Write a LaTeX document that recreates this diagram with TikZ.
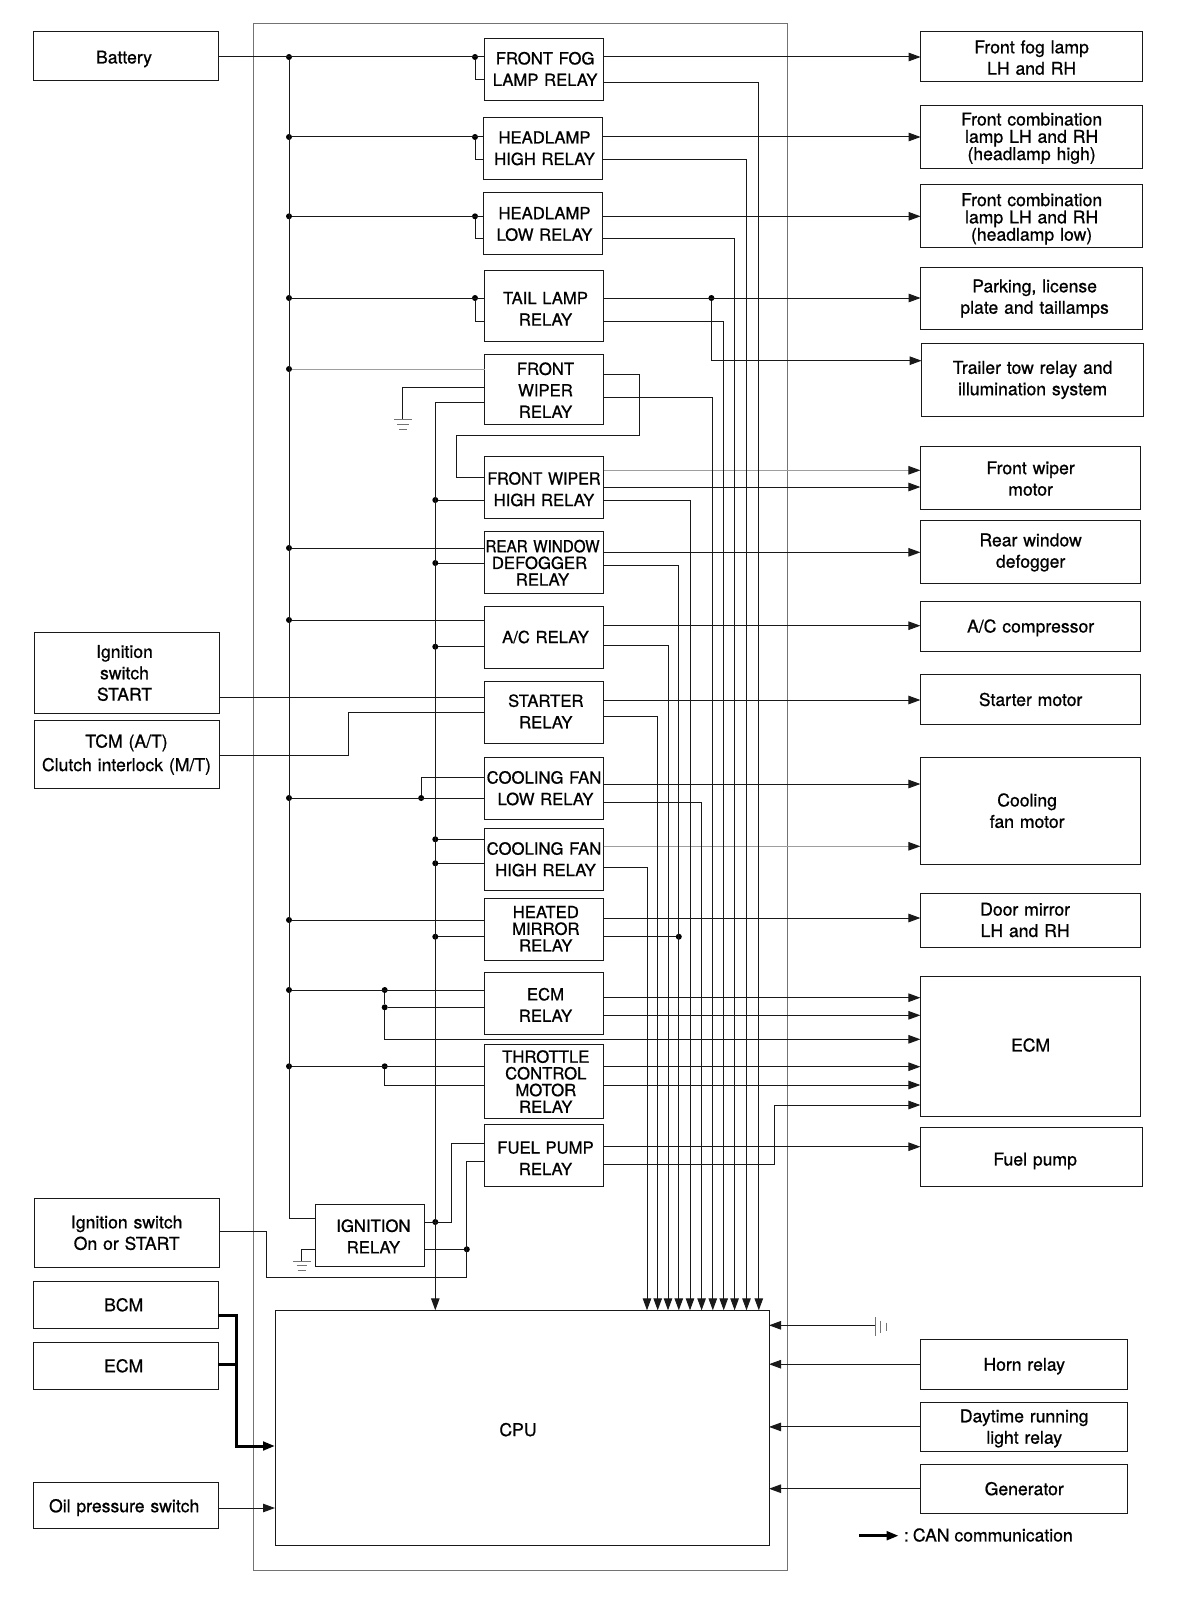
\documentclass[tikz,border=0pt]{standalone}
\usepackage{fontspec}
\setmainfont[FakeBold=0.8]{TeX Gyre Heros}
\newfontfamily\narrowfont[FakeBold=0.8,FakeStretch=0.91]{TeX Gyre Heros}
\newfontfamily\slimfont[FakeBold=0.8,FakeStretch=0.96]{TeX Gyre Heros}
\usetikzlibrary{arrows.meta}
\definecolor{linecol}{gray}{0.1}
\definecolor{framecol}{gray}{0.45}
\definecolor{palecol}{gray}{0.62}

\begin{document}
\begin{tikzpicture}[x=1pt, y=-1pt, >={Triangle[length=12pt, width=8.5pt]},
    every node/.style={inner sep=0pt, outer sep=0pt},
    box/.style={draw=linecol, line width=1pt, align=center},
    drop/.style={execute at begin node={\rule{0pt}{#1}}},
    lift/.style={execute at end node={\rule[-#1]{0pt}{0pt}}},
    right by/.style={execute at begin node={\advance\leftskip by #1}},
    relay/.style={box, minimum width=119pt, minimum height=62pt, text width=119pt, right by=3pt, font=\fontsize{16.7}{21.5}\selectfont},
    tightrelay/.style={relay, font=\fontsize{16.7}{16.7}\selectfont},
    device/.style={box, minimum width=222pt, text width=200pt, font=\fontsize{17.6}{21.4}\selectfont},
    tightdevice/.style={device, font=\fontsize{17.6}{17.3}\selectfont},
    source/.style={box, minimum width=185pt, text width=175pt, font=\fontsize{17.6}{21.4}\selectfont},
    junction/.style={circle, fill=black, minimum size=6pt},
    wire/.style={draw=linecol, line width=1pt},
    palewire/.style={draw=palecol, line width=1pt, >={Triangle[length=12pt, width=8.5pt, color=linecol]}},
    canwire/.style={draw=black, line width=3pt},
    thinwire/.style={draw=framecol, line width=0.9pt}]
    \useasboundingbox (0,0) rectangle (1200,1600);

    % module outline
    \node[draw=framecol, line width=1pt, minimum width=534pt, minimum height=1546.5pt] (module) at (520.5,796.75) {};

    % relays
    \node[relay, lift=2pt] (fog) at (543.6,69.9) {FRONT FOG\\LAMP RELAY};
    \node[relay] (high) at (543,148.3) {HEADLAMP\\HIGH RELAY};
    \node[relay, drop=14.2pt] (low) at (543,223) {HEADLAMP\\LOW RELAY};
    \node[relay, minimum height=71pt, drop=18.2pt] (tail) at (544,305.8) {TAIL LAMP\\RELAY};
    \node[relay, minimum height=70pt, drop=14.2pt] (wiper) at (544,389.3) {FRONT\\WIPER\\RELAY};
    \node[relay, right by=-3pt, drop=16.2pt] (wiperhigh) at (544,487.3) {{\slimfont FRONT WIPER}\\HIGH RELAY};
    \node[tightrelay, right by=-6pt] (rear) at (544,562.7) {{\narrowfont REAR WINDOW}\\\hspace*{-6pt}DEFOGGER\\RELAY};
    \node[relay] (ac) at (544,637) {A/C RELAY};
    \node[relay, lift=2pt] (starter) at (544.3,712.3) {STARTER\\RELAY};
    \node[relay, right by=-3pt] (fanlow) at (544,788.2) {COOLING FAN\\\hspace*{3pt}LOW RELAY};
    \node[relay, right by=-3pt] (fanhigh) at (544,859.3) {COOLING FAN\\\hspace*{3pt}HIGH RELAY};
    \node[tightrelay, lift=2pt] (mirror) at (544.3,929.7) {HEATED\\MIRROR\\RELAY};
    \node[relay, drop=15.2pt] (ecmrelay) at (544,1003.5) {ECM\\RELAY};
    \node[tightrelay, minimum height=74.4pt] (throttle) at (544.3,1081.5) {THROTTLE\\CONTROL\\MOTOR\\RELAY};
    \node[relay, drop=17.2pt] (fuel) at (544,1155.7) {FUEL PUMP\\RELAY};
    \node[relay, minimum width=109.7pt, text width=109.7pt, right by=4pt, drop=14.2pt] (ignition) at (369.9,1235.5) {IGNITION\\RELAY};
    \node[box, minimum width=494pt, minimum height=235pt, drop=16.8pt, font=\fontsize{17.6}{21}\selectfont] (cpu) at (522,1427.8) {\hspace*{-8pt}CPU};

    % left inputs
    \node[source, minimum height=49pt, drop=18.8pt] (battery) at (126,56) {\hspace*{-4pt}Battery};
    \node[source, minimum height=80.6pt] (ignstart) at (126.5,673) {\hspace*{-4pt}Ignition\\\hspace*{-4pt}switch\\\hspace*{-4pt}START};
    \node[source, minimum height=68.4pt, font=\fontsize{17.6}{23.5}\selectfont] (tcm) at (126.5,754.6) {TCM (A/T)\\Clutch interlock (M/T)};
    \node[source, minimum height=69pt] (ignon) at (126.7,1232.8) {Ignition switch\\On or START};
    \node[source, minimum height=47pt] (bcm) at (125.7,1304.8) {\hspace*{-4pt}BCM};
    \node[source, minimum height=47pt] (ecmin) at (125.7,1365.8) {\hspace*{-4pt}ECM};
    \node[source, minimum height=46pt, drop=16.8pt] (oil) at (125.7,1505.7) {\hspace*{-3pt}Oil pressure switch};

    % right outputs
    \node[device, minimum height=50pt, drop=15pt] (foglamp) at (1031.6,56.6) {Front fog lamp\\LH and RH};
    \node[tightdevice, minimum height=62.4pt, drop=15pt] (combhigh) at (1031.6,137.2) {Front combination\\lamp LH and RH\\(headlamp high)};
    \node[tightdevice, minimum height=63.3pt, drop=18pt] (comblow) at (1031.6,216.3) {Front combination\\lamp LH and RH\\(headlamp low)};
    \node[device, minimum height=62.3pt] (parking) at (1031.6,298.5) {\hspace*{6pt}Parking, license\\\hspace*{6pt}plate and taillamps};
    \node[device, minimum height=72.4pt] (trailer) at (1032.6,380) {Trailer tow relay and\\illumination system};
    \node[device, minimum width=220.4pt, minimum height=63pt, drop=15pt] (wipermotor) at (1030.6,477.5) {Front wiper\\motor};
    \node[device, minimum width=220.4pt, minimum height=63.3pt, drop=13.8pt] (defogger) at (1030.6,552) {Rear window\\defogger};
    \node[device, minimum width=220.4pt, minimum height=50pt, drop=16.8pt] (compressor) at (1030.6,626) {A/C compressor};
    \node[device, minimum width=220.4pt, minimum height=50pt] (startermotor) at (1030.6,699.5) {Starter motor};
    \node[device, minimum width=220.4pt, minimum height=107.3pt] (fanmotor) at (1030.6,810.7) {\hspace*{-7pt}Cooling\\\hspace*{-7pt}fan motor};
    \node[device, minimum width=220.4pt, minimum height=54pt] (doormirror) at (1030.6,920) {\hspace*{-11pt}Door mirror\\\hspace*{-11pt}LH and RH};
    \node[device, minimum width=220.4pt, minimum height=139.8pt, lift=3pt] (ecmout) at (1030.6,1046.4) {ECM};
    \node[device, minimum width=221.6pt, minimum height=59pt, drop=20.8pt] (fuelpump) at (1031.2,1157) {\hspace*{8pt}Fuel pump};
    \node[device, minimum width=207pt, minimum height=49.7pt, drop=16.8pt] (horn) at (1024.2,1364.2) {Horn relay};
    \node[device, minimum width=207pt, minimum height=49.7pt, drop=16pt] (daytime) at (1024.2,1426.9) {Daytime running\\light relay};
    \node[device, minimum width=207pt, minimum height=49.3pt] (generator) at (1024.2,1488.7) {Generator};

    % junctions on the first feed
    \node[junction] (a1) at (289,57) {};
    \node[junction] (a2) at (289,137) {};
    \node[junction] (a3) at (289,216.3) {};
    \node[junction] (a4) at (289,298) {};
    \node[junction] (a5) at (289,369) {};
    \node[junction] (a6) at (289,548) {};
    \node[junction] (a7) at (289,620) {};
    \node[junction] (a8) at (289,798) {};
    \node[junction] (a9) at (289,920) {};
    \node[junction] (a10) at (289,990) {};
    \node[junction] (a11) at (289,1066.3) {};

    % junctions on the second feed
    \node[junction] (b1) at (435.3,500) {};
    \node[junction] (b2) at (435.3,563) {};
    \node[junction] (b3) at (435.3,646.7) {};
    \node[junction] (b4) at (435.3,839.3) {};
    \node[junction] (b5) at (435.3,863.3) {};
    \node[junction] (b6) at (435.3,936.7) {};
    \node[junction] (b7) at (435.3,1222) {};

    % other junctions
    \node[junction] (c1) at (475,57) {};
    \node[junction] (c2) at (475,137) {};
    \node[junction] (c3) at (475,216.3) {};
    \node[junction] (c4) at (475,298) {};
    \node[junction] (c5) at (421.2,798) {};
    \node[junction] (c6) at (384.7,990) {};
    \node[junction] (c7) at (384.7,1007.3) {};
    \node[junction] (c8) at (384.7,1066.3) {};
    \node[junction] (c9) at (711.4,298) {};
    \node[junction] (c10) at (678.8,936.7) {};
    \node[junction] (c11) at (466.8,1249.3) {};

    % feeds
    \draw[wire] (battery.east |- a1) -- (fog.west |- a1);
    \draw[wire] (a1) |- (ignition.west |- 0,1218.7);
    \draw[wire,->] (wiper.west |- 0,402.3) -| (cpu.north -| b1);

    % relay inputs
    \draw[wire] (c1) |- (fog.west |- 0,80);
    \draw[wire] (a2) -- (high.west |- a2);
    \draw[wire] (c2) |- (high.west |- 0,159);
    \draw[wire] (a3) -- (low.west |- a3);
    \draw[wire] (c3) |- (low.west |- 0,238.7);
    \draw[wire] (a4) -- (tail.west |- a4);
    \draw[wire] (c4) |- (tail.west |- 0,321);
    \draw[palewire] (a5) -- (wiper.west |- a5);
    \draw[wire] (wiper.west |- 0,387) -| (402.6,419);
    \draw[thinwire] (394,419) -- (412,419) (397,424) -- (409,424) (399,429) -- (407,429);
    \draw[wire] (wiper.east |- 0,374.7) -- (639,374.7) -- (639,435) -- (456,435) -- (456,477.3) -- (wiperhigh.west |- 0,477.3);
    \draw[wire] (b1) -- (wiperhigh.west |- b1);
    \draw[wire] (a6) -- (rear.west |- a6);
    \draw[wire] (b2) -- (rear.west |- b2);
    \draw[wire] (a7) -- (ac.west |- a7);
    \draw[wire] (b3) -- (ac.west |- b3);
    \draw[wire] (ignstart.east |- 0,697.3) -- (starter.west |- 0,697.3);
    \draw[wire] (tcm.east |- 0,755) -- (348.2,755) -- (348.2,712) -- (starter.west |- 0,712);
    \draw[wire] (a8) -- (fanlow.west |- a8);
    \draw[wire] (c5) |- (fanlow.west |- 0,777.7);
    \draw[wire] (b4) -- (fanhigh.west |- b4);
    \draw[wire] (b5) -- (fanhigh.west |- b5);
    \draw[wire] (a9) -- (mirror.west |- a9);
    \draw[wire] (b6) -- (mirror.west |- b6);
    \draw[wire] (a10) -- (ecmrelay.west |- a10);
    \draw[wire] (c6) -- (c7);
    \draw[wire] (c7) -- (ecmrelay.west |- c7);
    \draw[wire,->] (c7) |- (ecmout.west |- 0,1039.3);
    \draw[wire] (a11) -- (throttle.west |- a11);
    \draw[wire] (c8) |- (throttle.west |- 0,1085);
    \draw[wire] (ignition.east |- b7) -- (451,1222) -- (451,1143) -- (fuel.west |- 0,1143);
    \draw[wire] (ignon.east |- 0,1231.3) -- (266.8,1231.3) -- (266.8,1277.3) -- (466.8,1277.3) -- (466.8,1161.3) -- (fuel.west |- 0,1161.3);
    \draw[wire] (ignition.east |- c11) -- (c11);
    \draw[wire] (ignition.west |- c11) -| (301,1261);
    \draw[thinwire] (292.7,1261) -- (311,1261) (296.5,1265.7) -- (307,1265.7) (297.5,1270) -- (306,1270);

    % relay outputs
    \draw[wire,->] (fog.east |- a1) -- (foglamp.west |- a1);
    \draw[wire,->] (high.east |- a2) -- (combhigh.west |- a2);
    \draw[wire,->] (low.east |- a3) -- (comblow.west |- a3);
    \draw[wire,->] (tail.east |- a4) -- (parking.west |- a4);
    \draw[wire,->] (c9) |- (trailer.west |- 0,360.7);
    \draw[palewire,->] (wiperhigh.east |- 0,470.3) -- (wipermotor.west |- 0,470.3);
    \draw[wire,->] (wiperhigh.east |- 0,487) -- (wipermotor.west |- 0,487);
    \draw[wire,->] (rear.east |- 0,552.3) -- (defogger.west |- 0,552.3);
    \draw[wire,->] (ac.east |- 0,625.7) -- (compressor.west |- 0,625.7);
    \draw[wire,->] (starter.east |- 0,700) -- (startermotor.west |- 0,700);
    \draw[wire,->] (fanlow.east |- 0,784) -- (fanmotor.west |- 0,784);
    \draw[palewire,->] (fanhigh.east |- 0,846.3) -- (fanmotor.west |- 0,846.3);
    \draw[wire,->] (mirror.east |- 0,918) -- (doormirror.west |- 0,918);
    \draw[wire] (mirror.east |- c10) -- (c10);
    \draw[wire,->] (ecmrelay.east |- 0,997.7) -- (ecmout.west |- 0,997.7);
    \draw[wire,->] (ecmrelay.east |- 0,1015.3) -- (ecmout.west |- 0,1015.3);
    \draw[wire,->] (throttle.east |- 0,1066.7) -- (ecmout.west |- 0,1066.7);
    \draw[wire,->] (throttle.east |- 0,1085) -- (ecmout.west |- 0,1085);
    \draw[wire,->] (fuel.east |- 0,1146.7) -- (fuelpump.west |- 0,1146.7);
    \draw[wire,->] (fuel.east |- 0,1164.3) -- (774.2,1164.3) -- (774.2,1105) -- (ecmout.west |- 0,1105);

    % relay outputs read by the cpu
    \draw[wire,->] (fanhigh.east |- 0,867.3) -| (cpu.north -| 647,0);
    \draw[wire,->] (starter.east |- 0,716) -| (cpu.north -| 657.7,0);
    \draw[wire,->] (ac.east |- 0,645.7) -| (cpu.north -| 668,0);
    \draw[wire,->] (rear.east |- 0,565) -| (cpu.north -| c10);
    \draw[wire,->] (wiperhigh.east |- 0,500) -| (cpu.north -| 690,0);
    \draw[wire,->] (fanlow.east |- 0,802) -| (cpu.north -| 701.6,0);
    \draw[wire,->] (wiper.east |- 0,397.3) -| (cpu.north -| 712.8,0);
    \draw[wire,->] (tail.east |- 0,321) -| (cpu.north -| 723.7,0);
    \draw[wire,->] (low.east |- 0,238.7) -| (cpu.north -| 734.6,0);
    \draw[wire,->] (high.east |- 0,159) -| (cpu.north -| 746.5,0);
    \draw[wire,->] (fog.east |- 0,82.3) -| (cpu.north -| 758.8,0);

    % cpu inputs
    \draw[canwire,->] (bcm.east |- 0,1315) -- (236.3,1315) |- (cpu.west |- 0,1446);
    \draw[canwire] (ecmin.east |- 0,1364) -- (236.3,1364);
    \draw[wire,->] (oil.east |- 0,1508) -- (cpu.west |- 0,1508);
    \coordinate (earth) at (875.7,1325.3);
    \draw[wire,->] (earth) -- (cpu.east |- earth);
    \draw[thinwire] (875.7,1317.3) -- (875.7,1336) (880.7,1320.7) -- (880.7,1332.7) (886,1322.7) -- (886,1330.7);
    \draw[wire,->] (horn.west) -- (cpu.east |- horn.west);
    \draw[wire,->] (daytime.west) -- (cpu.east |- daytime.west);
    \draw[wire,->] (generator.west) -- (cpu.east |- generator.west);

    % key
    \coordinate (cankey) at (859.3,1535.7);
    \node[anchor=west, font=\fontsize{17.6}{21}\selectfont] (cantext) at (904,1535) {:\hspace{4pt}CAN communication};
    \draw[line width=3pt, ->] (cankey) -- (898.7,1535.7);
\end{tikzpicture}
\end{document}
